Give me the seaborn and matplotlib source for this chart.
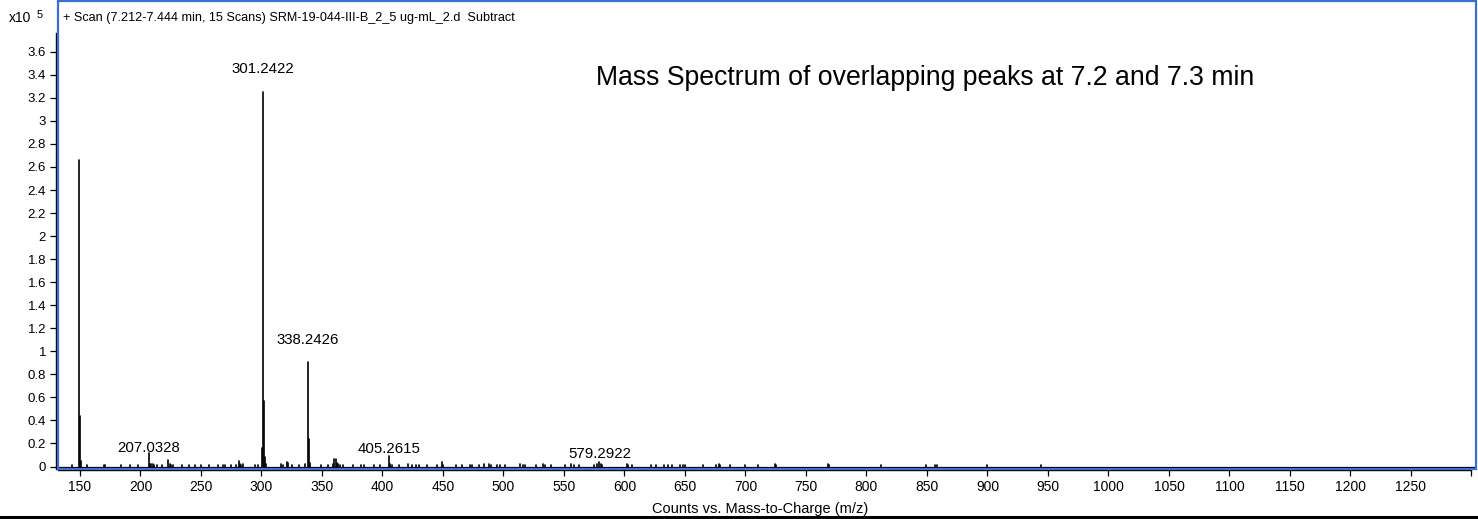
import numpy as np
import pandas as pd
import matplotlib
matplotlib.use("Agg")
import matplotlib.pyplot as plt
import seaborn as sns
from matplotlib.patches import Rectangle
from matplotlib.lines import Line2D

# ---------------- data (intensity in units of 10^5 counts) ----------------
mz = [143.0, 149.02, 150.02, 151.03, 156.0, 170.0, 171.0, 184.0, 191.0, 198.0,
      207.03, 208.03, 209.0, 210.0, 211.0, 214.0, 218.0, 223.06, 224.06, 225.0,
      227.0, 234.0, 240.0, 245.0, 250.0, 257.0, 264.0, 268.0, 270.0, 275.0,
      279.0, 281.05, 282.0, 283.0, 285.0, 295.0, 297.0, 300.24, 301.24, 302.25,
      303.25, 304.0, 316.0, 318.0, 321.0, 322.0, 325.0, 331.0, 336.0, 338.24,
      339.25, 340.25, 349.0, 355.0, 359.0, 360.2, 361.2, 362.2, 363.0, 365.0,
      367.0, 376.0, 382.0, 385.0, 393.0, 398.0, 405.26, 406.26, 408.0, 414.0,
      421.0, 424.0, 428.0, 430.0, 437.0, 445.0, 449.0, 450.0, 461.0, 466.0,
      472.0, 474.0, 480.0, 484.0, 488.0, 490.0, 495.0, 497.0, 501.0, 514.0,
      516.0, 518.0, 527.0, 533.0, 534.0, 539.0, 551.0, 556.0, 558.0, 562.0,
      575.0, 577.0, 579.29, 580.3, 581.0, 602.0, 603.0, 606.0, 622.0, 626.0,
      633.0, 636.0, 639.0, 646.0, 648.0, 650.0, 665.0, 676.0, 678.0, 679.0,
      687.0, 700.0, 710.0, 724.0, 725.0, 768.0, 769.0, 812.0, 849.0, 857.0,
      858.0, 900.0, 944.0]
intensity = [0.01, 2.66, 0.44, 0.05, 0.01, 0.015, 0.01, 0.01, 0.01, 0.01,
             0.115, 0.025, 0.02, 0.02, 0.015, 0.01, 0.01, 0.06, 0.02, 0.015,
             0.01, 0.01, 0.01, 0.01, 0.01, 0.01, 0.01, 0.01, 0.015, 0.01,
             0.015, 0.05, 0.02, 0.015, 0.02, 0.01, 0.01, 0.16, 3.25, 0.565,
             0.08, 0.02, 0.02, 0.01, 0.035, 0.03, 0.01, 0.01, 0.02, 0.905,
             0.235, 0.03, 0.01, 0.01, 0.02, 0.065, 0.065, 0.03, 0.02, 0.015,
             0.015, 0.01, 0.015, 0.01, 0.01, 0.01, 0.09, 0.02, 0.01, 0.01,
             0.02, 0.01, 0.015, 0.015, 0.01, 0.01, 0.04, 0.01, 0.01, 0.015,
             0.015, 0.01, 0.015, 0.02, 0.02, 0.015, 0.015, 0.01, 0.015, 0.02,
             0.015, 0.015, 0.01, 0.02, 0.015, 0.01, 0.01, 0.02, 0.015, 0.015,
             0.015, 0.02, 0.04, 0.02, 0.015, 0.02, 0.015, 0.01, 0.015, 0.01,
             0.01, 0.015, 0.015, 0.015, 0.01, 0.01, 0.015, 0.015, 0.02, 0.015,
             0.01, 0.01, 0.01, 0.02, 0.01, 0.02, 0.01, 0.015, 0.01, 0.015,
             0.01, 0.01, 0.01]

label_mz = [207.0328, 301.2422, 338.2426, 405.2615, 579.2922]
label_text = ["207.0328", "301.2422", "338.2426", "405.2615", "579.2922"]
label_gap_px = [1, 19, 18, 3, 4]

x_ticks = list(range(150, 1301, 50))
x_tick_labels = [str(t) for t in range(150, 1251, 50)] + [""]
y_ticks = [round(0.2 * i, 1) for i in range(19)]
y_tick_labels = ["%g" % t for t in y_ticks]

scan_title = "+ Scan (7.212-7.444 min, 15 Scans) SRM-19-044-III-B_2_5 ug-mL_2.d  Subtract"
big_title = "Mass Spectrum of overlapping peaks at 7.2 and 7.3 min"
x_label = "Counts vs. Mass-to-Charge (m/z)"

# ---------------- figure ----------------
W, H = 1478, 519
DPI = 100
sns.set_theme(style="white")
plt.rcParams["font.family"] = ["Liberation Sans", "DejaVu Sans"]
plt.rcParams["axes.facecolor"] = "white"
plt.rcParams["text.color"] = "black"
plt.rcParams["xtick.color"] = "black"
plt.rcParams["ytick.color"] = "black"
plt.rcParams["axes.labelcolor"] = "black"

fig = plt.figure(figsize=(W / DPI, H / DPI), dpi=DPI)
fig.patch.set_facecolor("white")

ax_left, ax_right, ax_top, ax_bottom = 58.3, 1476.0, 0.5, 468.7
ax = fig.add_axes([ax_left / W, 1 - ax_bottom / H, (ax_right - ax_left) / W,
                   (ax_bottom - ax_top) / H])

px_per_mz = 1.21
px_per_unit = 115.2
y0_px = 466.5
xmin = 150 - (80 - ax_left) / px_per_mz
xmax = 150 + (ax_right - 80) / px_per_mz
ymin = -(ax_bottom - y0_px) / px_per_unit
ymax = (y0_px - ax_top) / px_per_unit

rows = []
for i, (m, h) in enumerate(zip(mz, intensity)):
    rows.append({"mz": m, "counts": 0.0, "peak": i})
    rows.append({"mz": m, "counts": h, "peak": i})
df = pd.DataFrame(rows)

sns.lineplot(data=df, x="mz", y="counts", units="peak", estimator=None,
             color="black", linewidth=1.2, ax=ax, legend=False)
ax.axhline(0, color="black", lw=0.9, zorder=1)

ax.set_xlim(xmin, xmax)
ax.set_ylim(ymin, ymax)
ax.set_xlabel("")
ax.set_ylabel("")

ax.set_xticks(x_ticks)
ax.set_xticklabels(x_tick_labels)
ax.set_yticks(y_ticks)
ax.set_yticklabels(y_tick_labels)
ax.tick_params(axis="x", direction="out", length=4.0, width=0.9, color="black",
               labelcolor="black", pad=3.0, labelsize=10, bottom=True)
ax.tick_params(axis="y", direction="out", length=4.3, width=0.9, color="black",
               labelcolor="black", pad=2.5, labelsize=9.5, left=True)

for s in ["top", "right"]:
    ax.spines[s].set_visible(False)
ax.spines["left"].set_color("black")
ax.spines["left"].set_linewidth(1.0)
ax.spines["left"].set_position(("outward", 2.0))
ax.spines["left"].set_bounds(ymin, (y0_px - 33) / px_per_unit)
ax.spines["bottom"].set_color("black")
ax.spines["bottom"].set_linewidth(1.0)
ax.spines["bottom"].set_position(("outward", 1.2))
ax.spines["bottom"].set_bounds(xmin, 1300)

# blue frame
ax.add_patch(Rectangle((0, 0), 1, 1, transform=ax.transAxes, fill=False,
                       edgecolor="#3a6fd4", lw=1.6, clip_on=False, zorder=4))

# peak labels
for m, t, g in zip(label_mz, label_text, label_gap_px):
    idx = int(np.argmin(np.abs(np.array(mz) - m)))
    ax.annotate(t, xy=(m, intensity[idx]), xytext=(0, g * 72 / DPI),
                textcoords="offset points", ha="center", va="baseline",
                fontsize=10.8, color="black")

# texts
fig.text(63 / W, 1 - 18 / H, scan_title, ha="left", va="center", fontsize=9.1,
         color="black")
fig.text(9 / W, 1 - 18 / H, "x10", ha="left", va="center", fontsize=10, color="black")
fig.text(37 / W, 1 - 15 / H, "5", ha="left", va="center", fontsize=8, color="black")
fig.text(596 / W, 1 - 85 / H, big_title, ha="left", va="baseline", fontsize=19.2,
         color="black")
fig.text(760 / W, 1 - 509 / H, x_label, ha="center", va="center", fontsize=10.5,
         color="black")

# bottom black rule
fig.add_artist(Line2D([0, 1], [1 - 517 / H, 1 - 517 / H], transform=fig.transFigure,
                      color="black", lw=2.2))

fig.savefig("out.png", dpi=DPI, facecolor="white")
